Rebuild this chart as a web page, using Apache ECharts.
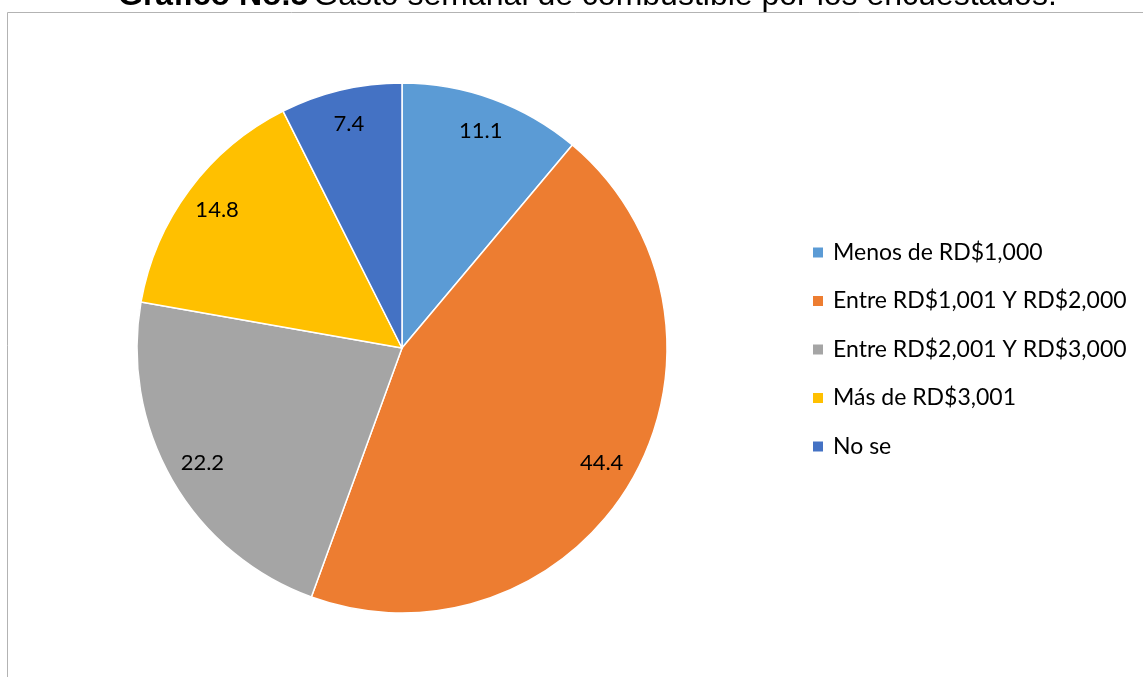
<!DOCTYPE html>
<html>
<head>
<meta charset="utf-8">
<script src="https://cdn.jsdelivr.net/npm/echarts@6/dist/echarts.min.js"></script>
<style>
  html, body { margin: 0; padding: 0; background: #fff; }
  #chart { width: 1143px; height: 677px; }
</style>
</head>
<body>
<div id="chart"></div>
<script>
const categorias = [
  'Menos de RD$1,000',
  'Entre RD$1,001 Y RD$2,000',
  'Entre RD$2,001 Y RD$3,000',
  'Más de RD$3,001',
  'No se'
];
const valores = [11.1, 44.4, 22.2, 14.8, 7.4];
const colores = ['#5B9BD5', '#ED7D31', '#A5A5A5', '#FFC000', '#4472C4'];

const datos = categorias.map((nombre, i) => ({
  name: nombre,
  value: valores[i],
  itemStyle: { color: colores[i] }
}));

const chart = echarts.init(document.getElementById('chart'));

const option = {
  animation: false,
  title: {
    text: '{b|Gráfico No.5} {n|Gasto semanal de combustible por los encuestados.}',
    left: 113,
    top: -25,
    textStyle: {
      fontWeight: 'normal',
      rich: {
        b: { fontFamily: 'Liberation Sans', fontSize: 32, fontWeight: 'bold', color: '#000', lineHeight: 32 },
        n: { fontFamily: 'Liberation Sans', fontSize: 32, fontWeight: 'normal', color: '#000', lineHeight: 32 }
      }
    }
  },
  graphic: [{
    type: 'rect',
    shape: { x: 7.5, y: 12.5, width: 1160, height: 700 },
    style: { fill: 'none', stroke: '#b3b3b3', lineWidth: 1 },
    silent: true,
    z: -1
  }],
  legend: {
    orient: 'vertical',
    left: 806,
    top: 236,
    icon: 'rect',
    itemWidth: 12,
    itemHeight: 12,
    itemGap: 25.5,
    textStyle: { fontFamily: 'Lato', fontSize: 23, color: '#000', lineHeight: 23, padding: [0, 0, 0, 4] },
    data: categorias
  },
  series: [
    {
      type: 'pie',
      center: [402, 348],
      radius: [0, 265],
      startAngle: 90,
      clockwise: true,
      label: { show: false },
      labelLine: { show: false },
      itemStyle: { borderColor: '#fff', borderWidth: 1.5 },
      emphasis: { disabled: true },
      data: datos
    },
    {
      type: 'pie',
      center: [402, 348],
      radius: [190, 265],
      startAngle: 90,
      clockwise: true,
      silent: true,
      itemStyle: { color: 'transparent' },
      label: {
        show: true,
        position: 'inside',
        formatter: '{c}',
        fontFamily: 'Lato',
        fontSize: 22,
        color: '#000'
      },
      labelLine: { show: false },
      emphasis: { disabled: true },
      data: categorias.map((nombre, i) => ({ name: nombre, value: valores[i] }))
    }
  ]
};

chart.setOption(option);
</script>
</body>
</html>
